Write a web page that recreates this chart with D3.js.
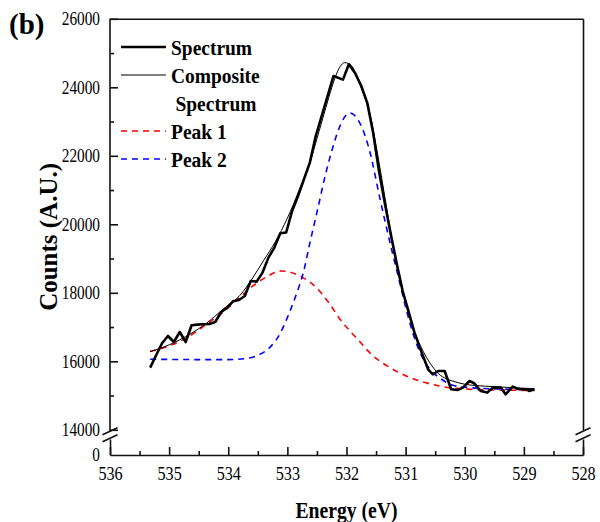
<!DOCTYPE html>
<html>
<head>
<meta charset="utf-8">
<script src="https://cdn.jsdelivr.net/npm/d3@7"></script>
<style>
  body { margin: 0; background: #fff; }
  svg { display: block; }
  text { font-family: "Liberation Serif", "Times New Roman", serif; }
</style>
</head>
<body>
<svg id="chart" width="600" height="522"></svg>
<script>
// measured spectrum (energy eV, counts)
var spectrumE = [535.32, 535.22, 535.12, 535.02, 534.92, 534.82, 534.72, 534.62, 534.52, 534.42,
    534.32, 534.22, 534.12, 534.02, 533.92, 533.82, 533.72, 533.62, 533.52, 533.42,
    533.32, 533.22, 533.12, 533.02, 532.92, 532.82, 532.72, 532.62, 532.52, 532.42,
    532.32, 532.22, 532.06, 531.96, 531.85, 531.75, 531.65, 531.55, 531.45, 531.35,
    531.25, 531.15, 531.05, 530.95, 530.85, 530.76, 530.62, 530.54, 530.45, 530.34,
    530.23, 530.12, 530.03, 529.92, 529.84, 529.73, 529.62, 529.52, 529.39, 529.31,
    529.19, 529.08, 528.96, 528.91, 528.82];
var spectrumC = [15816, 16175, 16526, 16739, 16563, 16855, 16563, 17051, 17071, 17080,
    17090, 17148, 17440, 17567, 17752, 17790, 17907, 18345, 18327, 18590,
    19027, 19320, 19737, 19760, 20390, 20826, 21314, 21800, 22578, 23162,
    23746, 24330, 24225, 24672, 24400, 24038, 23553, 22677, 21550, 20600,
    19700, 18850, 18050, 17450, 16838, 16400, 15766, 15620, 15717, 15717,
    15183, 15162, 15232, 15425, 15358, 15133, 15086, 15232, 15232, 15036,
    15261, 15183, 15183, 15133, 15183];

// composite fit
var compositeE = [535.32, 535.0, 534.65, 534.37, 534.09, 533.8, 533.6, 533.4, 533.2, 533.0,
    532.8, 532.6, 532.5, 532.4, 532.3, 532.2, 532.11, 532.03, 531.92, 531.8,
    531.7, 531.6, 531.5, 531.4, 531.3, 531.2, 531.1, 531.0, 530.9, 530.8,
    530.7, 530.6, 530.45, 530.3, 530.2, 530.0, 529.8, 529.5, 529.2, 528.82];
var compositeC = [16280, 16480, 16790, 17110, 17518, 17930, 18400, 18950, 19500, 20180,
    21000, 21900, 22500, 23100, 23700, 24250, 24600, 24720, 24640, 24200,
    23750, 23200, 22300, 21300, 20250, 19250, 18400, 17700, 17100, 16650,
    16280, 15980, 15650, 15480, 15420, 15330, 15290, 15260, 15230, 15200];

// peak 1 (red)
var peak1E = [535.32, 535.0, 534.65, 534.37, 534.09, 533.8, 533.52, 533.35, 533.1, 532.79,
    532.51, 532.28, 532.11, 531.95, 531.8, 531.58, 531.3, 531.0, 530.76, 530.43,
    529.92, 529.4, 528.82];
var peak1C = [16290, 16450, 16739, 17080, 17430, 17880, 18280, 18470, 18637, 18491,
    18151, 17664, 17226, 16900, 16620, 16204, 15850, 15580, 15425, 15279,
    15183, 15160, 15150];

// peak 2 (blue)
var peak2E = [535.32, 534.5, 534.0, 533.7, 533.52, 533.3, 533.13, 532.99, 532.85, 532.73,
    532.62, 532.48, 532.37, 532.24, 532.11, 531.95, 531.75, 531.61, 531.44, 531.33,
    531.21, 531.1, 530.99, 530.88, 530.74, 530.59, 530.43, 530.2, 529.92, 529.4, 528.82];
var peak2C = [16060, 16050, 16050, 16080, 16160, 16400, 16790, 17320, 17950, 18590,
    19450, 20500, 21350, 22200, 22870, 23250, 22870, 22150, 20800, 19950,
    19075, 18300, 17518, 16838, 16200, 15766, 15523, 15300, 15232, 15190, 15180];

var xTicks = [536, 535, 534, 533, 532, 531, 530, 529, 528];
var xMinor = [535.5, 534.5, 533.5, 532.5, 531.5, 530.5, 529.5, 528.5];
var yTicks = [14000, 16000, 18000, 20000, 22000, 24000, 26000];
var yMinor = [15000, 17000, 19000, 21000, 23000, 25000];
var legendNames = ["Spectrum", "Composite|Spectrum", "Peak 1", "Peak 2"];

//dimensions
var mLeft = 110, mRight = 583, mTop = 18.8, breakY = 429.8, mBottom = 455;

var x = d3.scaleLinear().domain([536, 528]).range([mLeft, mRight]);
var y = d3.scaleLinear().domain([14000, 26000]).range([breakY, mTop]);
var yLow = d3.scaleLinear().domain([0, 1000]).range([mBottom, mBottom - 16]);

var svg = d3.select('#chart');
var font = '"Liberation Serif", "Times New Roman", serif';

function styleAxis(g) {
    g.attr('font-family', font);
    g.selectAll('path, line').attr('stroke', '#111').attr('stroke-width', 1.6);
}

// bottom axis
var gx = svg.append('g')
    .attr('transform', 'translate(0,' + mBottom + ')')
    .call(d3.axisBottom(x).tickValues(xTicks).tickSizeInner(-8).tickSizeOuter(0).tickFormat(d3.format('d')));
gx.call(styleAxis);
gx.selectAll('text')
    .attr('y', 25).attr('dy', 0)
    .attr('font-size', 19.5)
    .attr('fill', '#000')
    .attr('transform', 'scale(0.83,1)');
svg.append('g')
    .attr('transform', 'translate(0,' + mBottom + ')')
    .call(d3.axisBottom(x).tickValues(xMinor).tickSize(-4).tickFormat(''))
    .call(styleAxis)
    .select('.domain').remove();

// left axis, upper part
var gy = svg.append('g')
    .attr('transform', 'translate(' + mLeft + ',0)')
    .call(d3.axisLeft(y).tickValues(yTicks).tickSizeInner(-8).tickSizeOuter(0).tickFormat(d3.format('d')));
gy.call(styleAxis);
gy.select('.domain').attr('d', 'M0,' + (breakY + 2) + 'V' + mTop);
gy.selectAll('text')
    .attr('x', -10 / 0.85)
    .attr('font-size', 18)
    .attr('fill', '#000')
    .attr('transform', 'scale(0.85,1)');
svg.append('g')
    .attr('transform', 'translate(' + mLeft + ',0)')
    .call(d3.axisLeft(y).tickValues(yMinor).tickSize(-4).tickFormat(''))
    .call(styleAxis)
    .select('.domain').remove();

// left axis, lower part (0)
var gyl = svg.append('g')
    .attr('transform', 'translate(' + mLeft + ',0)')
    .call(d3.axisLeft(yLow).tickValues([0]).tickSize(0).tickSizeOuter(0));
gyl.call(styleAxis);
gyl.selectAll('text')
    .attr('x', -10 / 0.85)
    .attr('font-size', 18)
    .attr('fill', '#000')
    .attr('transform', 'scale(0.85,1)');

// right and top frame
[y, yLow].forEach(function(s) {
    svg.append('g')
        .attr('transform', 'translate(' + mRight + ',0)')
        .call(d3.axisRight(s).tickValues([]).tickSizeOuter(0))
        .call(styleAxis);
});
svg.append('g')
    .attr('transform', 'translate(0,' + mTop + ')')
    .call(d3.axisTop(x).tickValues([]).tickSizeOuter(0))
    .call(styleAxis);

// axis break marks
[mLeft, mRight].forEach(function(ax) {
    [0, 7].forEach(function(off) {
        svg.append('line')
            .attr('x1', ax - 7.5).attr('y1', breakY + 5 + off)
            .attr('x2', ax + 7.5).attr('y2', breakY - 2 + off)
            .attr('stroke', '#111').attr('stroke-width', 1.6);
    });
});

// lines
var line = d3.line().x(function(d) { return x(d[0]); }).y(function(d) { return y(d[1]); });
var smooth = d3.line().curve(d3.curveMonotoneX).x(function(d) { return x(d[0]); }).y(function(d) { return y(d[1]); });

svg.append('path').datum(d3.zip(peak1E, peak1C))
    .attr('d', smooth).attr('fill', 'none')
    .attr('stroke', '#ff0000').attr('stroke-width', 1.6).attr('stroke-dasharray', '6,5');
svg.append('path').datum(d3.zip(peak2E, peak2C))
    .attr('d', smooth).attr('fill', 'none')
    .attr('stroke', '#0000ff').attr('stroke-width', 1.6).attr('stroke-dasharray', '6,5');
svg.append('path').datum(d3.zip(spectrumE, spectrumC))
    .attr('d', line).attr('fill', 'none')
    .attr('stroke', '#000').attr('stroke-width', 2.6).attr('stroke-linejoin', 'round');
svg.append('path').datum(d3.zip(compositeE, compositeC))
    .attr('d', smooth).attr('fill', 'none')
    .attr('stroke', '#000').attr('stroke-width', 1);

// legend
var legendStyles = [
    { stroke: '#000', width: 2.6, dash: null },
    { stroke: '#000', width: 1.2, dash: null },
    { stroke: '#ff0000', width: 1.6, dash: '6,5' },
    { stroke: '#0000ff', width: 1.6, dash: '6,5' }
];
var row = 0;
legendNames.forEach(function(name, i) {
    var ry = 47 + row * 28;
    var st = legendStyles[i];
    svg.append('line')
        .attr('x1', 121).attr('x2', 166).attr('y1', ry).attr('y2', ry)
        .attr('stroke', st.stroke).attr('stroke-width', st.width)
        .attr('stroke-dasharray', st.dash);
    var parts = name.split('|');
    parts.forEach(function(p, j) {
        var t = svg.append('text')
            .attr('font-weight', 'bold').attr('font-size', 22).attr('fill', '#000')
            .text(p);
        if (j === 0) {
            t.attr('transform', 'translate(171,' + (ry + 7.5) + ') scale(0.885,1)');
        } else {
            t.attr('text-anchor', 'middle')
             .attr('transform', 'translate(216,' + (47 + (row + j) * 28 + 7.5) + ') scale(0.885,1)');
        }
    });
    row += parts.length;
});

// titles
svg.append('text')
    .attr('text-anchor', 'middle').attr('font-weight', 'bold').attr('font-size', 24)
    .attr('transform', 'translate(' + ((mLeft + mRight) / 2) + ',518) scale(0.82,1)')
    .text('Energy (eV)');
svg.append('text')
    .attr('text-anchor', 'middle').attr('font-weight', 'bold').attr('font-size', 25)
    .attr('transform', 'translate(56.5,' + ((mTop + mBottom) / 2) + ') rotate(-90)')
    .text('Counts (A.U.)');
svg.append('text')
    .attr('font-weight', 'bold').attr('font-size', 29)
    .attr('x', 9).attr('y', 34)
    .text('(b)');
</script>
</body>
</html>
